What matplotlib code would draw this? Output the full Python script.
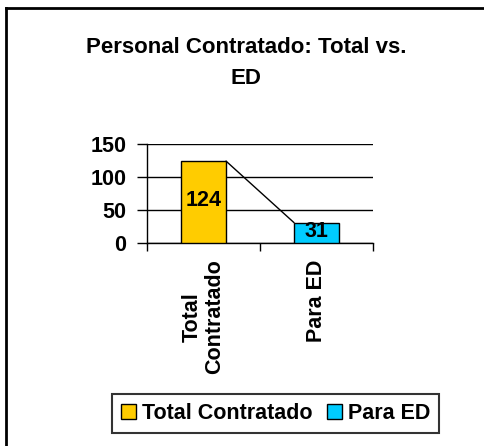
import matplotlib
matplotlib.use("Agg")
import matplotlib.pyplot as plt
import matplotlib.patches as mpatches
from matplotlib.lines import Line2D

categories = ["Total\nContratado", "Para ED"]
legend_names = ["Total Contratado", "Para ED"]
values = [124, 31]
colors = ["#FFCC00", "#00CCFF"]
yticks = [0, 50, 100, 150]

plt.rcParams["font.family"] = ["Liberation Sans", "DejaVu Sans"]
plt.rcParams["font.weight"] = "bold"

W, H = 484, 446
fig = plt.figure(figsize=(W / 100, H / 100), dpi=100)
ax = fig.add_axes([147 / W, 1 - 243 / H, 226 / W, 99 / H])

x = list(range(len(values)))
bar_w = 0.4
ax.bar(x, values, width=bar_w, color=colors, edgecolor="black", linewidth=1, zorder=3)

# series line between bar tops
ax.plot([x[0] + bar_w / 2, x[1] - bar_w / 2], values, color="black", linewidth=1, zorder=2)

for xi, v in zip(x, values):
    ax.text(xi, v / 2 + 2, str(v), ha="center", va="center", fontsize=15.5,
            fontweight="bold", zorder=4)

ax.set_xlim(-0.5, 1.5)
ax.set_ylim(0, 150)
ax.set_yticks(yticks)
ax.set_yticklabels([str(t) for t in yticks], fontsize=15.5, fontweight="bold")
ax.yaxis.grid(True, color="black", linewidth=1)
ax.set_axisbelow(True)

ax.set_xticks(x)
ax.set_xticklabels(categories, rotation=90, fontsize=15.5, fontweight="bold",
                   va="top", ha="center", multialignment="center", linespacing=1.05)
ax.set_xticks([-0.5, 0.5, 1.5], minor=True)
ax.tick_params(axis="x", which="major", length=0, pad=12)
ax.tick_params(axis="x", which="minor", length=6, width=1, direction="out")
ax.tick_params(axis="y", length=7, width=1, pad=8)

for s in ["top", "right"]:
    ax.spines[s].set_visible(False)
ax.spines["left"].set_linewidth(1)
ax.spines["bottom"].set_linewidth(1)

fig.text(246 / W, 1 - 37 / H, "Personal Contratado: Total vs.\nED", ha="center", va="top",
         fontsize=16, fontweight="bold", linespacing=1.65)

handles = [mpatches.Patch(facecolor=c, edgecolor="black", linewidth=1, label=n)
           for c, n in zip(colors, legend_names)]
leg = fig.legend(handles=handles, loc="center", bbox_to_anchor=(275.5 / W, 1 - 413.5 / H),
                 ncol=2, prop={"weight": "bold", "size": 15.5}, fancybox=False,
                 edgecolor="black", handlelength=0.7, handleheight=0.7, handletextpad=0.25,
                 columnspacing=0.7, borderpad=0.4, frameon=True)
leg.get_frame().set_linewidth(1.5)

# outer chart frame (right/bottom edges are cut off)
fig.add_artist(Line2D([6 / W, 1.0], [1 - 8 / H, 1 - 8 / H], color="black", linewidth=2,
                      transform=fig.transFigure))
fig.add_artist(Line2D([6 / W, 6 / W], [0, 1 - 8 / H], color="black", linewidth=2,
                      transform=fig.transFigure))

fig.savefig("out.png", dpi=100)
